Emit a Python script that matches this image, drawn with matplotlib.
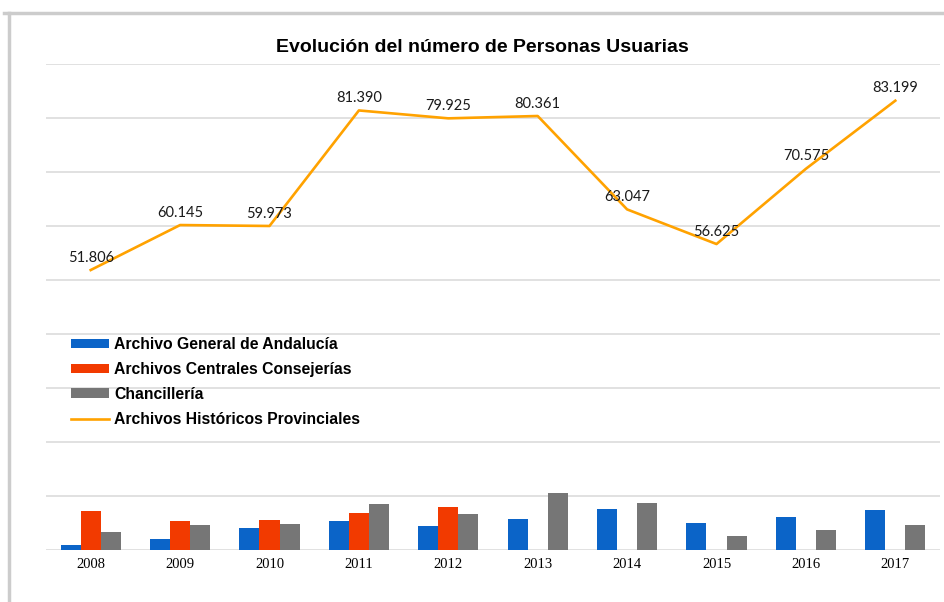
import numpy as np
import matplotlib
matplotlib.use('Agg')
import matplotlib.pyplot as plt
from matplotlib.lines import Line2D

# data
years = ['2008', '2009', '2010', '2011', '2012', '2013', '2014', '2015', '2016', '2017']
general = [800, 1950, 3930, 5340, 4300, 5620, 7420, 4950, 5940, 7290]
consejerias = [7140, 5340, 5470, 6710, 7830, None, None, None, None, None]
chancilleria = [3190, 4600, 4790, 8500, 6590, 10450, 8660, 2410, 3650, 4580]
provinciales = [51806, 60145, 59973, 81390, 79925, 80361, 63047, 56625, 70575, 83199]

series_names = ['Archivo General de Andalucía', 'Archivos Centrales Consejerías',
                'Chancillería', 'Archivos Históricos Provinciales']
colors = ['#0B64C8', '#F23A00', '#767676', '#FFA200']

W, H = 944, 602
fig = plt.figure(figsize=(W / 100, H / 100), dpi=100)
ax = fig.add_axes([46 / W, 1 - 549.5 / H, (940 - 46) / W, (549.5 - 64) / H])

x = np.arange(len(years))
bw = 0.224
red = np.array([np.nan if v is None else v for v in consejerias], dtype=float)

b1 = ax.bar(x - bw, general, bw, color=colors[0], label=series_names[0], zorder=3)
b2 = ax.bar(x, red, bw, color=colors[1], label=series_names[1], zorder=3)
b3 = ax.bar(x + bw, chancilleria, bw, color=colors[2], label=series_names[2], zorder=3)
ln, = ax.plot(x, provinciales, color=colors[3], lw=1.9, label=series_names[3], zorder=4)

for xi, v in zip(x, provinciales):
    ax.annotate(f'{v:,}'.replace(',', '.'), (xi, v), xytext=(0, 6),
                textcoords='offset points', ha='center', va='baseline',
                fontsize=10.5, family='Lato', color='#1a1a1a', zorder=5)

ax.set_xlim(-0.5, len(years) - 0.5)
ax.set_ylim(0, 90000)
ax.set_yticks(np.arange(0, 90001, 10000))
ax.yaxis.grid(True, color='#d9d9d9', lw=1.1, zorder=0)
ax.tick_params(axis='y', left=False, labelleft=False)
ax.set_xticks(x)
ax.set_xticklabels(years, family='Liberation Serif', fontsize=10.5)
ax.tick_params(axis='x', length=0, pad=6)
for s in ax.spines.values():
    s.set_visible(False)

fig.text(482 / W, 1 - 48 / H, 'Evolución del número de Personas Usuarias',
         ha='center', va='center', family='Liberation Sans', weight='bold',
         fontsize=14)

ax.legend([b1, b2, b3, ln], series_names, loc='upper left',
          bbox_to_anchor=(71 / W, 1 - 337 / H),
          bbox_transform=fig.transFigure, frameon=False, borderpad=0,
          borderaxespad=0, handlelength=2.4, handleheight=0.55,
          handletextpad=0.35, labelspacing=0.63,
          prop={'family': 'Liberation Sans', 'weight': 'bold', 'size': 11.3})

# light grey frame around the picture
fig.add_artist(Line2D([4 / W, 1], [1 - 12.5 / H, 1 - 12.5 / H], color='#cccccc', lw=2.5,
                      transform=fig.transFigure))
fig.add_artist(Line2D([9 / W, 9 / W], [0, 1 - 12.5 / H], color='#cccccc', lw=2.5,
                      transform=fig.transFigure))

fig.savefig('out.png', dpi=100)
